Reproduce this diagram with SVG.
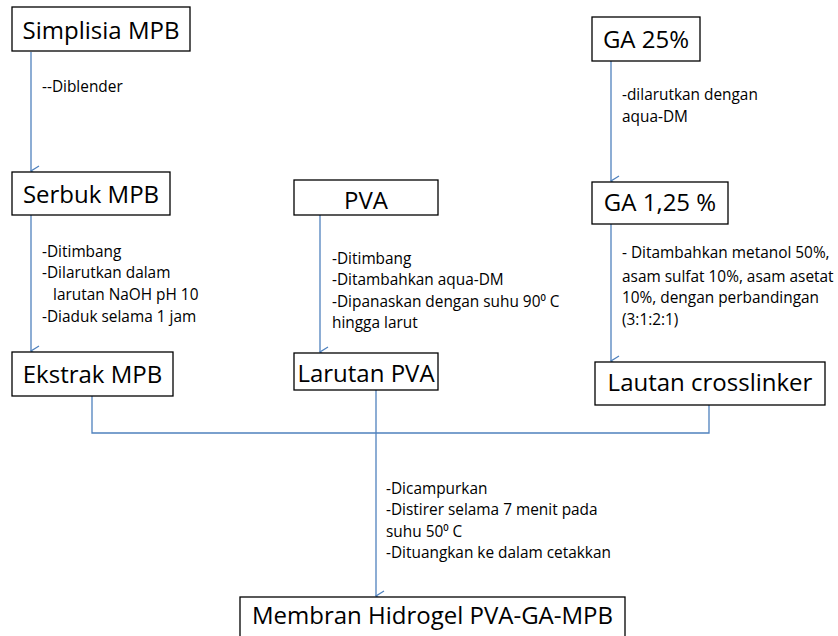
<svg xmlns="http://www.w3.org/2000/svg" width="838" height="636" viewBox="0 0 838 636">
<defs>
<marker id="arr" markerWidth="12" markerHeight="12" refX="6" refY="10" orient="auto-start-reverse" markerUnits="userSpaceOnUse" viewBox="0 0 12 12">
<path d="M1,2 L6,10 L11,2" fill="none" stroke="#4F81BD" stroke-width="1.3"/>
</marker>
<style>
.box{fill:#fff;stroke:#000;stroke-width:1.3}
.big{font-family:"Open Sans","Liberation Sans",sans-serif;font-size:24px;fill:#000;text-anchor:middle}
.sm{font-family:"Open Sans","Liberation Sans",sans-serif;font-size:15.4px;fill:#000}
.ln{fill:none;stroke:#4F81BD;stroke-width:1.3}
</style>
</defs>
<rect width="838" height="636" fill="#fff"/>
<g id="connectors">
<line class="ln" x1="31" y1="52" x2="31" y2="171" marker-end="url(#arr)"/>
<line class="ln" x1="31" y1="215" x2="31" y2="351" marker-end="url(#arr)"/>
<line class="ln" x1="320" y1="215" x2="320" y2="352" marker-end="url(#arr)"/>
<line class="ln" x1="611" y1="61" x2="611" y2="181" marker-end="url(#arr)"/>
<line class="ln" x1="611" y1="224" x2="611" y2="361" marker-end="url(#arr)"/>
<polyline class="ln" points="92,396 92,433 709,433 709,405"/>
<line class="ln" x1="376" y1="390" x2="376" y2="596" marker-end="url(#arr)"/>
</g>
<g id="simplisia"><rect class="box" x="12" y="7" width="178" height="44"/><text class="big" x="101" y="39">Simplisia MPB</text></g>
<g id="serbuk"><rect class="box" x="12" y="172" width="158" height="43"/><text class="big" x="91" y="203">Serbuk MPB</text></g>
<g id="ekstrak"><rect class="box" x="12" y="352" width="161" height="44"/><text class="big" x="92.5" y="383">Ekstrak MPB</text></g>
<g id="pva"><rect class="box" x="294" y="180" width="144" height="35"/><text class="big" x="366" y="209">PVA</text></g>
<g id="larutanpva"><rect class="box" x="294" y="353" width="144" height="37"/><text class="big" x="366" y="382">Larutan PVA</text></g>
<g id="ga25"><rect class="box" x="592" y="17" width="108" height="44"/><text class="big" x="646" y="48">GA 25%</text></g>
<g id="ga125"><rect class="box" x="592" y="182" width="136" height="42"/><text class="big" x="660" y="211">GA 1,25 %</text></g>
<g id="crosslinker"><rect class="box" x="595" y="362" width="230" height="43"/><text class="big" x="710" y="391">Lautan crosslinker</text></g>
<g id="membran"><rect class="box" x="240" y="597" width="385" height="45"/><text class="big" x="432.5" y="624">Membran Hidrogel PVA-GA-MPB</text></g>
<g id="labels">
<text class="sm" x="42" y="92">--Diblender</text>
<text class="sm" x="42" y="257">-Ditimbang</text>
<text class="sm" x="42" y="278">-Dilarutkan dalam</text>
<text class="sm" x="53" y="300">larutan NaOH pH 10</text>
<text class="sm" x="42" y="322">-Diaduk selama 1 jam</text>
<text class="sm" x="332" y="264">-Ditimbang</text>
<text class="sm" x="332" y="285">-Ditambahkan aqua-DM</text>
<text class="sm" x="332" y="307">-Dipanaskan dengan suhu 90⁰ C</text>
<text class="sm" x="332" y="328">hingga larut</text>
<text class="sm" x="622" y="100">-dilarutkan dengan</text>
<text class="sm" x="622" y="122">aqua-DM</text>
<text class="sm" x="622" y="258">- Ditambahkan metanol 50%,</text>
<text class="sm" x="622" y="282">asam sulfat 10%, asam asetat</text>
<text class="sm" x="622" y="303">10%, dengan perbandingan</text>
<text class="sm" x="622" y="325">(3:1:2:1)</text>
<text class="sm" x="386" y="494">-Dicampurkan</text>
<text class="sm" x="386" y="515">-Distirer selama 7 menit pada</text>
<text class="sm" x="386" y="537">suhu 50⁰ C</text>
<text class="sm" x="386" y="558">-Dituangkan ke dalam cetakkan</text>
</g>
</svg>
